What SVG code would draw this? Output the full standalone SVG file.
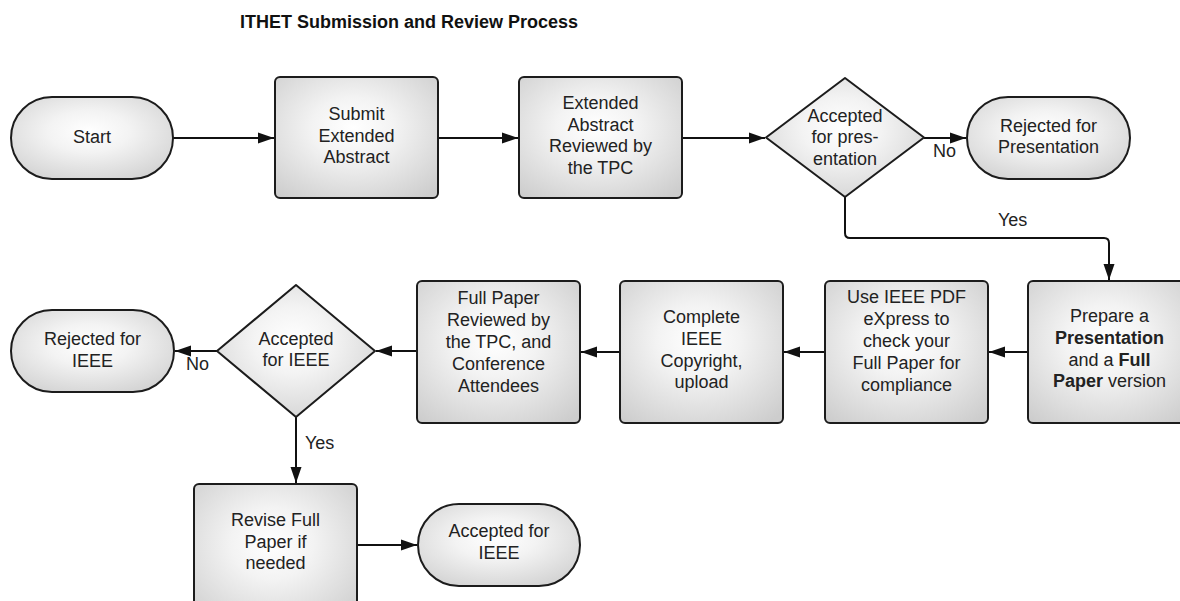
<svg xmlns="http://www.w3.org/2000/svg" width="1180" height="601" viewBox="0 0 1180 601">
<defs>
<radialGradient id="g" cx="0.48" cy="0.42" r="0.72">
<stop offset="0" stop-color="#ffffff"/>
<stop offset="0.35" stop-color="#f3f3f3"/>
<stop offset="1" stop-color="#cdcdcd"/>
</radialGradient>
<marker id="ah" markerWidth="16" markerHeight="12" refX="16" refY="6" orient="auto" markerUnits="userSpaceOnUse">
<path d="M0,0.5 L16,6 L0,11.5 z" fill="#111"/>
</marker>
<style>
.n{fill:url(#g);stroke:#1c1c1c;stroke-width:2}
.t{font-family:"Liberation Sans",Arial,sans-serif;font-size:18px;fill:#222;text-anchor:middle}
.l{font-family:"Liberation Sans",Arial,sans-serif;font-size:18px;fill:#222}
.c{fill:none;stroke:#111;stroke-width:2;marker-end:url(#ah)}
.b{font-weight:bold}
</style>
</defs>
<rect width="1180" height="601" fill="#fff"/>
<text x="240" y="28" font-family="Liberation Sans,Arial,sans-serif" font-size="18" font-weight="bold" fill="#111">ITHET Submission and Review Process</text>

<g id="connectors">
<path class="c" d="M173,138 H274"/>
<path class="c" d="M438,138 H518"/>
<path class="c" d="M682,138 H765"/>
<path class="c" d="M924,138 H966"/>
<path class="c" d="M845,197 V233 Q845,238 850,238 H1104 Q1109,238 1109,243 V280"/>
<path class="c" d="M1028,352 H989"/>
<path class="c" d="M825,352 H784"/>
<path class="c" d="M620,352 H581"/>
<path class="c" d="M417,351 H376"/>
<path class="c" d="M217,351 H175"/>
<path class="c" d="M296,417 V483"/>
<path class="c" d="M357,545 H417"/>
<text class="l" x="933" y="157">No</text>
<text class="l" x="998" y="226">Yes</text>
<text class="l" x="186" y="370">No</text>
<text class="l" x="305" y="449">Yes</text>
</g>

<g id="start">
<rect class="n" x="11" y="97" width="162" height="82" rx="41"/>
<text class="t" x="92" y="142.5">Start</text>
</g>
<g id="submit">
<rect class="n" x="275" y="77" width="163" height="121" rx="5"/>
<text class="t" x="356.5" y="120">Submit</text>
<text class="t" x="356.5" y="141.5">Extended</text>
<text class="t" x="356.5" y="163">Abstract</text>
</g>
<g id="extended-review">
<rect class="n" x="519" y="77" width="163" height="121" rx="5"/>
<text class="t" x="600.5" y="109">Extended</text>
<text class="t" x="600.5" y="130.5">Abstract</text>
<text class="t" x="600.5" y="152">Reviewed by</text>
<text class="t" x="600.5" y="173.5">the TPC</text>
</g>
<g id="decision-presentation">
<path class="n" d="M845,78 L924,137.5 L845,197 L766,137.5 Z" stroke-linejoin="round"/>
<text class="t" x="845" y="121.5">Accepted</text>
<text class="t" x="845" y="143">for pres-</text>
<text class="t" x="845" y="164.5">entation</text>
</g>
<g id="rejected-presentation">
<rect class="n" x="967" y="97" width="163" height="82" rx="41"/>
<text class="t" x="1048.5" y="131.5">Rejected for</text>
<text class="t" x="1048.5" y="153">Presentation</text>
</g>
<g id="prepare">
<rect class="n" x="1028" y="281" width="163" height="142" rx="5"/>
<text class="t" x="1109.5" y="322">Prepare a</text>
<text class="t b" x="1109.5" y="343.5">Presentation</text>
<text class="t" x="1109.5" y="365.5">and a <tspan class="b">Full</tspan></text>
<text class="t" x="1109.5" y="387"><tspan class="b">Paper</tspan> version</text>
</g>
<g id="pdf-express">
<rect class="n" x="825" y="281" width="163" height="142" rx="5"/>
<text class="t" x="906.5" y="303">Use IEEE PDF</text>
<text class="t" x="906.5" y="325">eXpress to</text>
<text class="t" x="906.5" y="347">check your</text>
<text class="t" x="906.5" y="369">Full Paper for</text>
<text class="t" x="906.5" y="391">compliance</text>
</g>
<g id="copyright">
<rect class="n" x="620" y="281" width="163" height="142" rx="5"/>
<text class="t" x="701.5" y="323">Complete</text>
<text class="t" x="701.5" y="345">IEEE</text>
<text class="t" x="701.5" y="367">Copyright,</text>
<text class="t" x="701.5" y="388">upload</text>
</g>
<g id="full-review">
<rect class="n" x="417" y="281" width="163" height="142" rx="5"/>
<text class="t" x="498.5" y="304">Full Paper</text>
<text class="t" x="498.5" y="326">Reviewed by</text>
<text class="t" x="498.5" y="348">the TPC, and</text>
<text class="t" x="498.5" y="370">Conference</text>
<text class="t" x="498.5" y="392">Attendees</text>
</g>
<g id="decision-ieee">
<path class="n" d="M296,285 L375,351 L296,417 L217,351 Z" stroke-linejoin="round"/>
<text class="t" x="296" y="345">Accepted</text>
<text class="t" x="296" y="366">for IEEE</text>
</g>
<g id="rejected-ieee">
<rect class="n" x="11" y="310" width="163" height="82" rx="41"/>
<text class="t" x="92.5" y="345">Rejected for</text>
<text class="t" x="92.5" y="367">IEEE</text>
</g>
<g id="revise">
<rect class="n" x="194" y="484" width="163" height="142" rx="5"/>
<text class="t" x="275.5" y="526">Revise Full</text>
<text class="t" x="275.5" y="547.5">Paper if</text>
<text class="t" x="275.5" y="569">needed</text>
</g>
<g id="accepted-ieee">
<rect class="n" x="418" y="504" width="162" height="82" rx="41"/>
<text class="t" x="499" y="537">Accepted for</text>
<text class="t" x="499" y="559">IEEE</text>
</g>
</svg>
